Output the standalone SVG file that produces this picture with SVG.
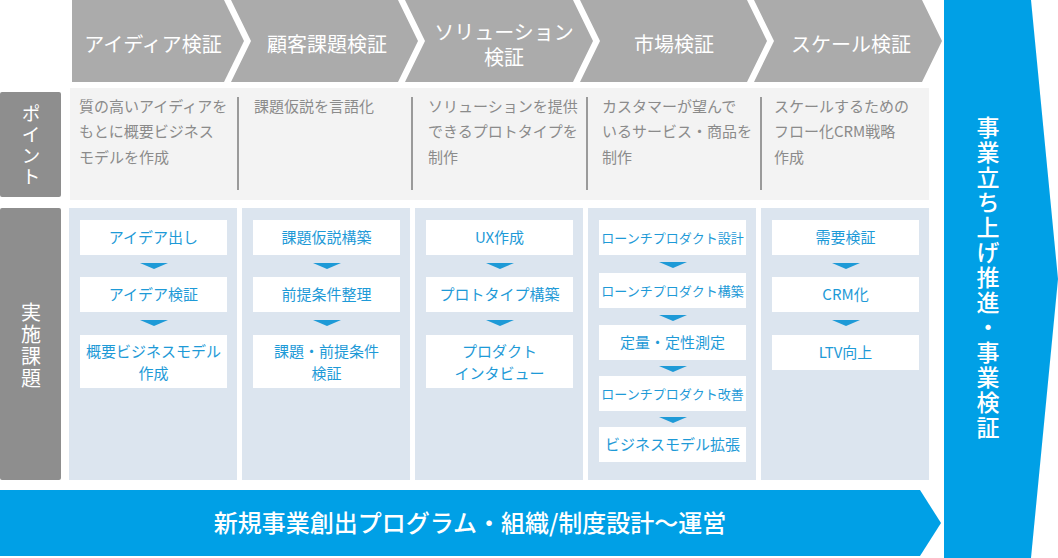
<svg xmlns="http://www.w3.org/2000/svg" width="1058" height="558" viewBox="0 0 1058 558">
<style>
text{font-family:"Noto Sans CJK JP","Noto Sans",sans-serif}
.chev{fill:#ababab}
.ht{fill:#fff;font-size:20px;text-anchor:middle}
.lbl{fill:#8e8e8e}
.vt{writing-mode:vertical-rl;text-anchor:middle;letter-spacing:2px}
.lt{fill:#fff;font-size:20px}
.pbg{fill:#f3f3f3}
.sep{stroke:#9a9a9a;stroke-width:2}
.pt{fill:#8b8b8b;font-size:15px}
.col{fill:#dce5ef}
.box{fill:#fff}
.tt{fill:#1e9ad7;font-size:15px;text-anchor:middle}
.ts{font-size:13px}
.tri{fill:#1e9ad7}
.blue{fill:#00a0e6}
.bt{fill:#fff;font-size:23px;font-weight:500}
</style>

<g id="header">
  <polygon class="chev" points="72,0 224,0 244,41 224,82 72,82"/>
  <polygon class="chev" points="231,0 398,0 418,41 398,82 231,82 251,41"/>
  <polygon class="chev" points="405,0 573,0 593,41 573,82 405,82 425,41"/>
  <polygon class="chev" points="580,0 747,0 767,41 747,82 580,82 600,41"/>
  <polygon class="chev" points="754,0 922,0 942,41 922,82 754,82 774,41"/>
  <text class="ht" x="153" y="52">アイディア検証</text>
  <text class="ht" x="327" y="52">顧客課題検証</text>
  <text class="ht"><tspan x="504" y="40">ソリューション</tspan><tspan x="504" y="65">検証</tspan></text>
  <text class="ht" x="674" y="52">市場検証</text>
  <text class="ht" x="851" y="52">スケール検証</text>
</g>

<g id="label-point">
  <rect class="lbl" x="0" y="92" width="61" height="105" rx="2"/>
  <text class="lt vt" style="font-size:19px" x="31" y="146">ポイント</text>
</g>

<g id="point-row">
  <rect class="pbg" x="70" y="88" width="859" height="112"/>
  <line class="sep" x1="238" y1="97" x2="238" y2="190"/>
  <line class="sep" x1="412" y1="97" x2="412" y2="190"/>
  <line class="sep" x1="587" y1="97" x2="587" y2="190"/>
  <line class="sep" x1="761" y1="97" x2="761" y2="190"/>
  <text class="pt"><tspan x="79" y="112">質の高いアイディアを</tspan><tspan x="79" y="137">もとに概要ビジネス</tspan><tspan x="79" y="163">モデルを作成</tspan></text>
  <text class="pt"><tspan x="254" y="112">課題仮説を言語化</tspan></text>
  <text class="pt"><tspan x="428" y="112">ソリューションを提供</tspan><tspan x="428" y="137">できるプロトタイプを</tspan><tspan x="428" y="163">制作</tspan></text>
  <text class="pt"><tspan x="602" y="112">カスタマーが望んで</tspan><tspan x="602" y="137">いるサービス・商品を</tspan><tspan x="602" y="163">制作</tspan></text>
  <text class="pt"><tspan x="774" y="112">スケールするための</tspan><tspan x="774" y="137">フロー化CRM戦略</tspan><tspan x="774" y="163">作成</tspan></text>
</g>

<g id="label-tasks">
  <rect class="lbl" x="0" y="208" width="61" height="272" rx="2"/>
  <text class="lt vt" x="31" y="346">実施課題</text>
</g>

<g id="col-idea">
  <rect class="col" x="69" y="208" width="168" height="272"/>
  <rect class="box" x="80" y="220" width="147" height="35"/>
  <rect class="box" x="80" y="277" width="147" height="35"/>
  <rect class="box" x="80" y="335" width="147" height="53"/>
  <text class="tt" x="153.5" y="243">アイデア出し</text>
  <text class="tt" x="153.5" y="300">アイデア検証</text>
  <text class="tt"><tspan x="153.5" y="357">概要ビジネスモデル</tspan><tspan x="153.5" y="379">作成</tspan></text>
</g>

<g id="col-customer">
  <rect class="col" x="242" y="208" width="168" height="272"/>
  <rect class="box" x="253" y="220" width="147" height="35"/>
  <rect class="box" x="253" y="277" width="147" height="35"/>
  <rect class="box" x="253" y="335" width="147" height="53"/>
  <text class="tt" x="326.5" y="243">課題仮説構築</text>
  <text class="tt" x="326.5" y="300">前提条件整理</text>
  <text class="tt"><tspan x="326.5" y="357">課題・前提条件</tspan><tspan x="326.5" y="379">検証</tspan></text>
</g>

<g id="col-solution">
  <rect class="col" x="415" y="208" width="168" height="272"/>
  <rect class="box" x="426" y="220" width="147" height="35"/>
  <rect class="box" x="426" y="277" width="147" height="35"/>
  <rect class="box" x="426" y="335" width="147" height="53"/>
  <text class="tt" x="499.5" y="243">UX作成</text>
  <text class="tt" x="499.5" y="300">プロトタイプ構築</text>
  <text class="tt"><tspan x="499.5" y="357">プロダクト</tspan><tspan x="499.5" y="379">インタビュー</tspan></text>
</g>

<g id="col-market">
  <rect class="col" x="588" y="208" width="168" height="272"/>
  <rect class="box" x="599" y="220" width="147" height="35"/>
  <rect class="box" x="599" y="273" width="147" height="35"/>
  <rect class="box" x="599" y="325" width="147" height="35"/>
  <rect class="box" x="599" y="376" width="147" height="35"/>
  <rect class="box" x="599" y="427" width="147" height="35"/>
  <text class="tt ts" x="672.5" y="242.5">ローンチプロダクト設計</text>
  <text class="tt ts" x="672.5" y="295.5">ローンチプロダクト構築</text>
  <text class="tt" x="672.5" y="348">定量・定性測定</text>
  <text class="tt ts" x="672.5" y="398.5">ローンチプロダクト改善</text>
  <text class="tt" x="672.5" y="450">ビジネスモデル拡張</text>
</g>

<g id="col-scale">
  <rect class="col" x="761" y="208" width="168" height="272"/>
  <rect class="box" x="772" y="220" width="147" height="35"/>
  <rect class="box" x="772" y="277" width="147" height="35"/>
  <rect class="box" x="772" y="335" width="147" height="35"/>
  <text class="tt" x="845.5" y="243">需要検証</text>
  <text class="tt" x="845.5" y="300">CRM化</text>
  <text class="tt" x="845.5" y="358">LTV向上</text>
</g>

<g id="connectors">
  <polygon class="tri" points="140,263 168,263 154,269"/>
  <polygon class="tri" points="140,320 168,320 154,326"/>
  <polygon class="tri" points="313,263 341,263 327,269"/>
  <polygon class="tri" points="313,320 341,320 327,326"/>
  <polygon class="tri" points="486,263 514,263 500,269"/>
  <polygon class="tri" points="486,320 514,320 500,326"/>
  <polygon class="tri" points="659,262 687,262 673,268"/>
  <polygon class="tri" points="659,315 687,315 673,321"/>
  <polygon class="tri" points="659,366 687,366 673,372"/>
  <polygon class="tri" points="659,417 687,417 673,423"/>
  <polygon class="tri" points="832,263 860,263 846,269"/>
  <polygon class="tri" points="832,320 860,320 846,326"/>
</g>

<g id="bottom-arrow">
  <polygon class="blue" points="0,490 920,490 941,523 920,556 0,556"/>
  <text class="bt" style="font-size:24px;text-anchor:middle" x="470" y="532">新規事業創出プログラム・組織/制度設計〜運営</text>
</g>

<g id="right-arrow">
  <polygon class="blue" points="944,0 1031,0 1058,279 1031,558 944,558"/>
  <text class="bt vt" x="988" y="278">事業立ち上げ推進・事業検証</text>
</g>
</svg>
